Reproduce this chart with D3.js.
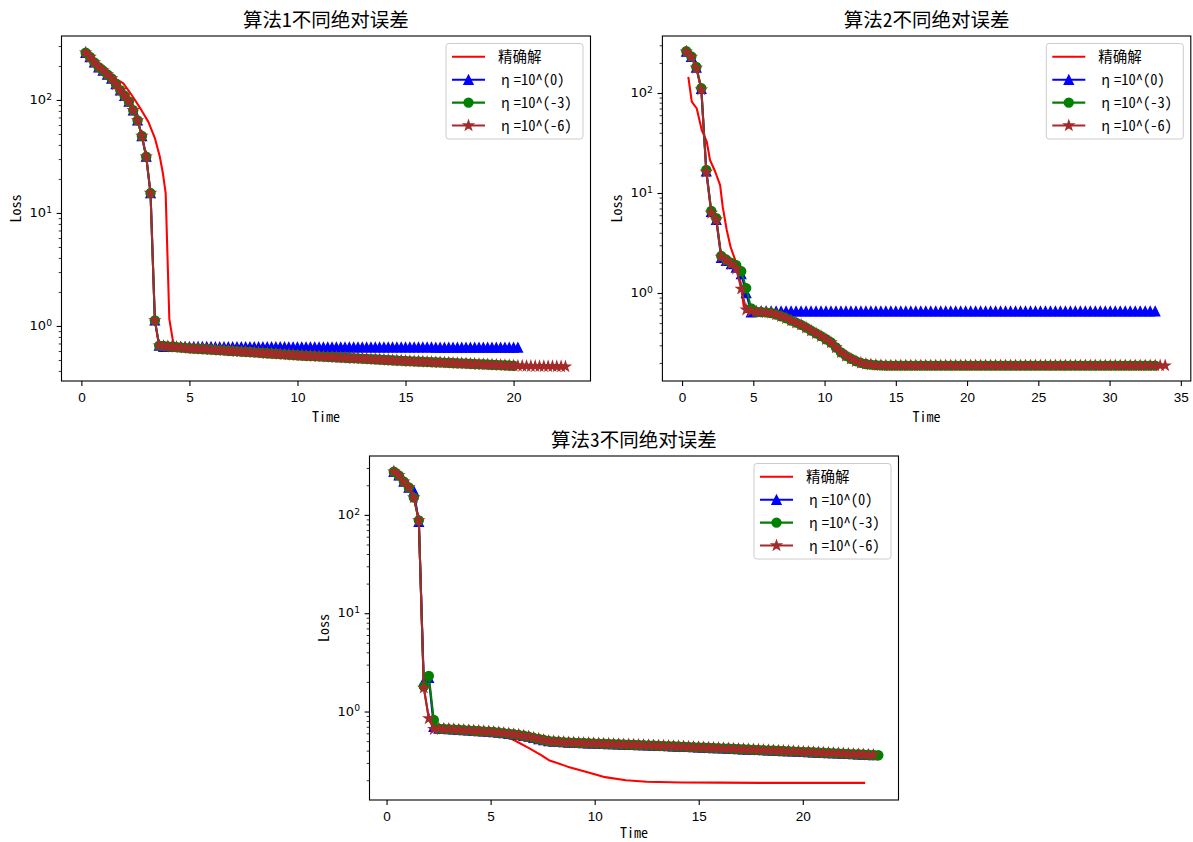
<!DOCTYPE html>
<html><head><meta charset="utf-8">
<script src="https://cdn.jsdelivr.net/npm/d3@7"></script>
<style>body{margin:0;background:#fff;}svg{display:block;}</style>
</head><body>
<svg id="chart" width="1193" height="842"></svg>
<script>
// ---------------- DATA ----------------
const legendLabels = ["精确解", "η=10^(0)", "η=10^(-3)", "η=10^(-6)"];
const titles = ["算法1不同绝对误差", "算法2不同绝对误差", "算法3不同绝对误差"];
const xLabel = "Time";
const yLabel = "Loss";
const xTicks1 = [0, 5, 10, 15, 20];
const xTicks2 = [0, 5, 10, 15, 20, 25, 30, 35];
const xTicks3 = [0, 5, 10, 15, 20];
const yMajorTicks = [1, 10, 100];
const yMinorTicks = [0.1,0.2,0.3,0.4,0.5,0.6,0.7,0.8,0.9,2,3,4,5,6,7,8,9,20,30,40,50,60,70,80,90,200,300,400,500,600,700,800,900];

// ---- Algorithm 1 ----
const time1 = [0.2,0.4,0.6,0.8,1.0,1.2,1.4,1.6,1.8,2.0,
 2.2,2.4,2.6,2.8,3.0,3.2,3.4,3.6,3.8,4.0,
 4.2,4.4,4.6,4.8,5.0,5.2,5.4,5.6,5.8,6.0,
 6.2,6.4,6.6,6.8,7.0,7.2,7.4,7.6,7.8,8.0,
 8.2,8.4,8.6,8.8,9.0,9.2,9.4,9.6,9.8,10.0,
 10.2,10.4,10.6,10.8,11.0,11.2,11.4,11.6,11.8,12.0,
 12.2,12.4,12.6,12.8,13.0,13.2,13.4,13.6,13.8,14.0,
 14.2,14.4,14.6,14.8,15.0,15.2,15.4,15.6,15.8,16.0,
 16.2,16.4,16.6,16.8,17.0,17.2,17.4,17.6,17.8,18.0,
 18.2,18.4,18.6,18.8,19.0,19.2,19.4,19.6,19.8,20.0,
 20.2,20.4,20.6,20.8,21.0,21.2,21.4,21.6,21.8,22.0,
 22.2,22.4];
const alg1Head = [262,240,215,195,182,168,155,138,122,109,97,81,66,48,31.5,15,1.12,0.67];
const alg1Tail = [0.665,0.66,0.655,0.65,0.645,0.64,0.635,
 0.632,0.628,0.625,0.622,0.618,0.615,0.611,0.608,0.604,0.601,
 0.598,0.594,0.591,0.588,0.584,0.581,0.577,0.574,0.571,0.567,
 0.564,0.56,0.557,0.554,0.55,0.548,0.545,0.543,0.541,0.538,
 0.536,0.533,0.531,0.529,0.526,0.524,0.521,0.519,0.517,0.514,
 0.512,0.509,0.507,0.505,0.502,0.5,0.497,0.495,0.493,0.49,
 0.488,0.486,0.485,0.483,0.481,0.479,0.477,0.476,0.474,0.472,
 0.47,0.468,0.467,0.465,0.463,0.461,0.459,0.458,0.456,0.454,
 0.452,0.45,0.449,0.447,0.445];
const alg1BrownExtra = [0.444,0.443,0.442,0.441,0.441,0.44,0.44,0.439,0.439,0.438,0.438,0.437];
const alg1BlueTail = [0.655,0.655,0.655,0.654,0.654,0.654,0.654,0.653,0.653,0.653,
 0.653,0.653,0.652,0.652,0.652,0.652,0.652,0.651,0.651,0.651,
 0.651,0.651,0.651,0.65,0.65,0.65,0.65,0.65,0.65,0.649,
 0.649,0.649,0.649,0.649,0.649,0.649,0.648,0.648,0.648,0.648,
 0.648,0.648,0.648,0.648,0.647,0.647,0.647,0.647,0.647,0.647,
 0.647,0.647,0.647,0.646,0.646,0.646,0.646,0.646,0.646,0.646,
 0.646,0.646,0.646,0.645,0.645,0.645,0.645,0.645,0.645,0.645,
 0.645,0.645,0.645,0.645,0.645,0.645,0.645,0.645,0.645,0.645,
 0.645,0.645,0.645];
const exact1Time = [0.2,0.6,1.0,1.4,1.7,1.94,2.2,2.48,2.8,3.1,3.4,3.63,3.78,3.9,3.95,4.07,4.24,4.4,5.0,7.5,10.0,12.5,15.0,17.5,20.0];
const exact1Loss = [262,222,190,160,150,140,120,100,80,64,46,31.5,22,15,7,1.15,0.73,0.665,0.636,0.59,0.55,0.515,0.49,0.465,0.445];
const blue1 = alg1Head.concat(alg1BlueTail);
const green1 = alg1Head.concat(alg1Tail);
const brown1 = alg1Head.concat(alg1Tail, alg1BrownExtra);

// ---- Algorithm 2 ----
const time2 = [0.3,0.65,1.0,1.35,1.7,2.05,2.4,2.75,3.1,3.45,
 3.8,4.15,4.5,4.85,5.2,5.55,5.9,6.25,6.6,6.95,
 7.3,7.65,8.0,8.35,8.7,9.05,9.4,9.75,10.1,10.45,
 10.8,11.15,11.5,11.85,12.2,12.55,12.9,13.25,13.6,13.95,
 14.3,14.65,15.0,15.35,15.7,16.05,16.4,16.75,17.1,17.45,
 17.8,18.15,18.5,18.85,19.2,19.55,19.9,20.25,20.6,20.95,
 21.3,21.65,22.0,22.35,22.7,23.05,23.4,23.75,24.1,24.45,
 24.8,25.15,25.5,25.85,26.2,26.55,26.9,27.25,27.6,27.95,
 28.3,28.65,29.0,29.35,29.7,30.05,30.4,30.75,31.1,31.45,
 31.8,32.15,32.5,32.85,33.2,33.55,33.9];
const blue2Head = [259,230,180,110,16.5,6.5,5.4,2.25,2.1,1.95,1.8,1.55,1.0,0.64];
const green2Head = [262,232,182,112,17,6.6,5.6,2.35,2.15,2.0,1.9,1.65,1.12,0.7];
const brown2Head = [259,230,178,108,16.2,6.3,5.4,2.3,2.1,1.95,1.75,1.1,0.68,0.66];
const alg2Tail = [0.65,0.645,0.64,0.63,0.61,0.585,0.56,0.53,0.505,0.48,
 0.45,0.42,0.395,0.37,0.345,0.32,0.285,0.255,0.235,0.22,
 0.208,0.2,0.195,0.192,0.19,0.189,
 0.188,0.188,0.188,0.188,0.188,0.188,0.188,0.188,0.188,0.188,
 0.188,0.188,0.188,0.188,0.188,0.188,0.188,0.188,0.188,0.188,
 0.188,0.188,0.188,0.188,0.188,0.188,0.188,0.188,0.188,0.188,
 0.188,0.188,0.188,0.188,0.188,0.188,0.188,0.188,0.188,0.188,
 0.188,0.188,0.188,0.188,0.188,0.188,0.188,0.188,0.188,0.188,
 0.188,0.188,0.188,0.188,0.188,0.188,0.188];
const blue2Tail = [0.655,0.655,0.655,0.655,0.655,0.655,0.655,0.655,0.655,0.655,
 0.655,0.655,0.655,0.655,0.655,0.655,0.655,0.655,0.655,0.655,
 0.655,0.655,0.655,0.655,0.655,0.655,0.655,0.655,0.655,0.655,
 0.655,0.655,0.655,0.655,0.655,0.655,0.655,0.655,0.655,0.655,
 0.655,0.655,0.655,0.655,0.655,0.655,0.655,0.655,0.655,0.655,
 0.655,0.655,0.655,0.655,0.655,0.655,0.655,0.655,0.655,0.655,
 0.655,0.655,0.655,0.655,0.655,0.655,0.655,0.655,0.655,0.655,
 0.655,0.655,0.655,0.655,0.655,0.655,0.655,0.655,0.655,0.655,
 0.655];
const exact2Time = [0.44,0.68,1.03,1.38,1.73,1.96,2.32,2.67,2.85,3.13,3.4,3.8,4.07,4.33,4.6,5.2,6.0,7.0,8.0,9.0,10.0,11.0,12.0,13.0,14.0,15.0,20.0,25.0,30.0,33.0];
const exact2Loss = [145,82,70,42.6,32.7,21.4,16.4,12,7.3,4.3,2.9,2.0,1.35,0.73,0.66,0.645,0.635,0.58,0.5,0.41,0.34,0.26,0.21,0.193,0.188,0.188,0.188,0.188,0.188,0.188];
const blue2 = blue2Head.concat(blue2Tail);
const green2 = green2Head.concat(alg2Tail.slice(0, 81));
const brown2 = brown2Head.concat(alg2Tail);

// ---- Algorithm 3 ----
const time3 = [0.35,0.59,0.83,1.07,1.31,1.55,1.79,2.03,2.27,2.51,
 2.75,2.99,3.23,3.47,3.71,3.95,4.19,4.43,4.67,4.91,
 5.15,5.39,5.63,5.87,6.11,6.35,6.59,6.83,7.07,7.31,
 7.55,7.79,8.03,8.27,8.51,8.75,8.99,9.23,9.47,9.71,
 9.95,10.19,10.43,10.67,10.91,11.15,11.39,11.63,11.87,12.11,
 12.35,12.59,12.83,13.07,13.31,13.55,13.79,14.03,14.27,14.51,
 14.75,14.99,15.23,15.47,15.71,15.95,16.19,16.43,16.67,16.91,
 17.15,17.39,17.63,17.87,18.11,18.35,18.59,18.83,19.07,19.31,
 19.55,19.79,20.03,20.27,20.51,20.75,20.99,21.23,21.47,21.71,
 21.95,22.19,22.43,22.67,22.91,23.15,23.39,23.63];
const blue3Head = [275,252,218,190,175,85,2.0,2.2,0.7];
const green3Head = [275,252,218,190,150,88,1.8,2.3,0.82];
const brown3Head = [275,252,218,190,150,88,1.74,0.85,0.66];
const alg3Tail = [0.67,0.666,0.662,0.658,0.652,0.647,0.643,0.638,0.633,0.628,
 0.624,0.618,0.611,0.603,0.595,0.587,0.578,0.567,0.555,0.54,
 0.526,0.513,0.501,0.496,0.492,0.488,0.484,0.482,0.48,0.478,
 0.476,0.474,0.472,0.47,0.468,0.466,0.464,0.462,0.46,0.459,
 0.457,0.455,0.453,0.451,0.449,0.447,0.445,0.443,0.441,0.439,
 0.437,0.434,0.432,0.43,0.428,0.426,0.424,0.422,0.42,0.418,
 0.415,0.413,0.411,0.409,0.407,0.405,0.403,0.401,0.399,0.397,
 0.395,0.393,0.391,0.389,0.387,0.385,0.383,0.381,0.379,0.377,
 0.375,0.373,0.371,0.369,0.367,0.365,0.363,0.361,0.359];
const exact3Time = [0.35,0.83,1.07,1.31,1.55,1.79,2.03,2.27,3.0,4.0,5.0,5.5,6.14,6.8,7.43,7.8,8.7,9.83,10.5,11.5,12.5,14.2,16.0,18.0,20.0,23.0];
const exact3Loss = [275,218,190,150,88,1.75,0.85,0.67,0.66,0.64,0.615,0.59,0.51,0.43,0.36,0.32,0.275,0.235,0.215,0.2,0.193,0.19,0.189,0.188,0.188,0.188];
const blue3 = blue3Head.concat(alg3Tail.slice(0, 88));
const green3 = green3Head.concat(alg3Tail);
const brown3 = brown3Head.concat(alg3Tail.slice(0, 88));

// ---------------- STYLE ----------------
const COLORS = ["#ff0000", "#0000ff", "#008000", "#a52a2a"];
const MARKERS = [null, "triangle", "circle", "star"];
const MONO = "'Noto Sans Mono CJK SC','Noto Sans CJK SC','DejaVu Sans Mono',monospace";
const MATH = "'DejaVu Sans',sans-serif";
const TICKF = "'Liberation Sans',Arial,sans-serif";

const svg = d3.select("#chart");
svg.append("rect").attr("width", 1193).attr("height", 842).attr("fill", "#fff");

function starPath(R) {
  const r = R * 0.381966, pts = [];
  for (let i = 0; i < 10; i++) {
    const a = -Math.PI / 2 + i * Math.PI / 5, rr = i % 2 ? r : R;
    pts.push((rr * Math.cos(a)).toFixed(2) + "," + (rr * Math.sin(a)).toFixed(2));
  }
  return "M" + pts.join("L") + "Z";
}
function markerPath(type) {
  const h = 4.5;
  if (type === "triangle") return `M0,${-h}L${-h},${h}L${h},${h}Z`;
  if (type === "circle") return d3.symbol(d3.symbolCircle, Math.PI * h * h)();
  if (type === "star") return starPath(h * 1.08);
  return "";
}

function panel(p) {
  const x = d3.scaleLinear().domain(p.xDomain).range([p.left, p.right]);
  const y = d3.scaleLog().domain(p.yDomain).range([p.bottom, p.top]);
  const g = svg.append("g");
  const clipId = "clip" + p.id;
  svg.append("clipPath").attr("id", clipId).append("rect")
    .attr("x", p.left).attr("y", p.top).attr("width", p.right - p.left).attr("height", p.bottom - p.top);
  const plot = g.append("g").attr("clip-path", `url(#${clipId})`);
  const line = d3.line().x(d => x(d[0])).y(d => y(d[1]));
  p.series.forEach((s, i) => {
    const pts = d3.zip(s.t, s.v);
    plot.append("path").datum(pts).attr("d", line).attr("fill", "none")
      .attr("stroke", COLORS[i]).attr("stroke-width", 2.08).attr("stroke-linejoin", "round");
    if (MARKERS[i]) {
      const mp = markerPath(MARKERS[i]);
      plot.append("g").selectAll("path").data(pts).join("path")
        .attr("transform", d => `translate(${x(d[0])},${y(d[1])})`)
        .attr("d", mp).attr("fill", COLORS[i]).attr("stroke", COLORS[i]).attr("stroke-width", 1.39)
        .attr("stroke-linejoin", "miter");
    }
  });
  // x axis
  const xa = g.append("g").attr("transform", `translate(0,${p.bottom})`)
    .call(d3.axisBottom(x).tickValues(p.xTicks).tickSize(4.9).tickPadding(7).tickFormat(d3.format("d")));
  xa.select(".domain").remove();
  xa.selectAll(".tick line").attr("stroke", "#000").attr("stroke-width", 1.1);
  xa.selectAll(".tick text").attr("font-family", TICKF).attr("font-size", 13.5).attr("fill", "#000");
  // y minor
  const [y0, y1] = p.yDomain;
  const ym = g.append("g").attr("transform", `translate(${p.left},0)`)
    .call(d3.axisLeft(y).tickValues(yMinorTicks.filter(v => v >= y0 && v <= y1)).tickSize(2.8).tickFormat(""));
  ym.select(".domain").remove();
  ym.selectAll(".tick line").attr("stroke", "#000").attr("stroke-width", 0.8);
  // y major
  const ya = g.append("g").attr("transform", `translate(${p.left},0)`)
    .call(d3.axisLeft(y).tickValues(yMajorTicks).tickSize(4.9).tickPadding(5).tickFormat(""));
  ya.select(".domain").remove();
  ya.selectAll(".tick line").attr("stroke", "#000").attr("stroke-width", 1.1);
  ya.selectAll(".tick text").each(function (d) {
    const t = d3.select(this).attr("font-family", MATH).attr("font-size", 13).attr("fill", "#000")
      .attr("dy", "0.27em").attr("x", -9.5).attr("text-anchor", "end");
    t.append("tspan").text("10");
    t.append("tspan").attr("dy", "-0.45em").attr("font-size", 9.2).text(String(Math.round(Math.log10(d))));
  });
  // spines
  g.append("rect").attr("x", p.left).attr("y", p.top).attr("width", p.right - p.left).attr("height", p.bottom - p.top)
    .attr("fill", "none").attr("stroke", "#000").attr("stroke-width", 1.1);
  // labels
  const cx = (p.left + p.right) / 2, cy = (p.top + p.bottom) / 2;
  g.append("text").attr("x", cx).attr("y", p.top - 9.5).attr("text-anchor", "middle")
    .attr("font-family", MONO).attr("font-size", 19.5).attr("fill", "#000").text(p.title);
  g.append("text").attr("x", cx).attr("y", Math.min(p.bottom + 40.5, 837.5)).attr("text-anchor", "middle")
    .attr("font-family", MONO).attr("font-size", 14).attr("fill", "#000").text(xLabel);
  g.append("text").attr("transform", `translate(${p.left - 40.5},${cy}) rotate(-90)`).attr("text-anchor", "middle")
    .attr("font-family", MONO).attr("font-size", 14).attr("fill", "#000").text(yLabel);
  // legend
  const w = 137, h = 95.5;
  const L = p.right - 7.5 - w, T = p.top + 7.5;
  const lg = g.append("g");
  lg.append("rect").attr("x", L).attr("y", T).attr("width", w).attr("height", h).attr("rx", 2.8)
    .attr("fill", "#fff").attr("fill-opacity", 0.8).attr("stroke", "#cccccc").attr("stroke-width", 1);
  legendLabels.forEach((lab, i) => {
    const ry = T + 13.3 + i * 22.9;
    lg.append("line").attr("x1", L + 6).attr("x2", L + 39).attr("y1", ry).attr("y2", ry)
      .attr("stroke", COLORS[i]).attr("stroke-width", 2.08);
    if (MARKERS[i]) {
      lg.append("path").attr("transform", `translate(${L + 22.5},${ry})`).attr("d", markerPath(MARKERS[i]))
        .attr("fill", COLORS[i]).attr("stroke", COLORS[i]).attr("stroke-width", 1.39);
    }
    const tx = lg.append("text").attr("x", L + 52).attr("y", ry + 5.2).attr("font-family", MONO).attr("font-size", 14.5)
      .attr("fill", "#000");
    if (lab.startsWith("η")) {
      tx.append("tspan").attr("dx", 3).text("η");
      tx.append("tspan").attr("dx", 4).text(lab.slice(1));
    } else {
      tx.text(lab);
    }
  });
}

panel({ id: 1, left: 61.5, right: 590.5, top: 36, bottom: 381,
  xDomain: [-0.92, 23.56], yDomain: [Math.pow(10, -0.487), Math.pow(10, 2.566)], xTicks: xTicks1, title: titles[0],
  series: [ { t: exact1Time, v: exact1Loss }, { t: time1, v: blue1 }, { t: time1, v: green1 }, { t: time1, v: brown1 } ] });
panel({ id: 2, left: 662.4, right: 1190.8, top: 36, bottom: 381,
  xDomain: [-1.38, 35.7], yDomain: [Math.pow(10, -0.88), Math.pow(10, 2.57)], xTicks: xTicks2, title: titles[1],
  series: [ { t: exact2Time, v: exact2Loss }, { t: time2, v: blue2 }, { t: time2, v: green2 }, { t: time2, v: brown2 } ] });
panel({ id: 3, left: 369.5, right: 898.5, top: 456, bottom: 800,
  xDomain: [-0.82, 24.6], yDomain: [Math.pow(10, -0.9), Math.pow(10, 2.599)], xTicks: xTicks3, title: titles[2],
  series: [ { t: exact3Time, v: exact3Loss }, { t: time3, v: blue3 }, { t: time3, v: green3 }, { t: time3, v: brown3 } ] });
</script>
</body></html>
